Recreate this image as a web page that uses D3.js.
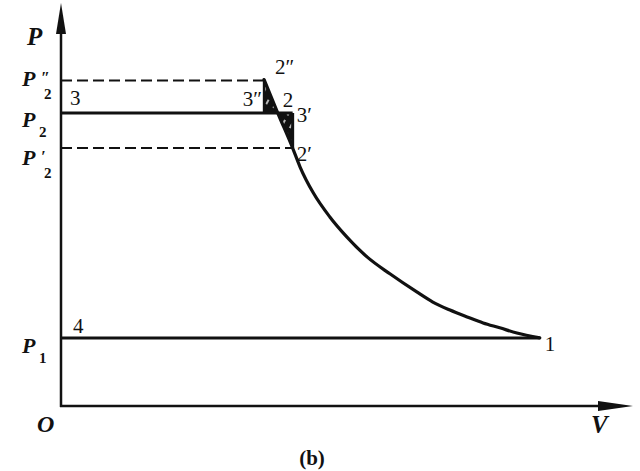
<!DOCTYPE html>
<html><head><meta charset="utf-8">
<script src="https://cdn.jsdelivr.net/npm/d3@7"></script>
<style>
html,body{margin:0;padding:0;background:#fff;}
svg{display:block;}
text{font-family:"Times New Roman","Liberation Serif",Tinos,Times,serif;fill:#111;}
</style></head>
<body>
<svg id="c" width="640" height="471"></svg>
<script>
// ---- data (arbitrary units) ----
const levelNames = ["P", "P", "P", "P"];
const levelSubs = ["2", "2", "2", "1"];
const levelPrimes = ["″", "", "′", ""];
const levelValues = [8.08, 7.27, 6.40, 1.69];   // P2'', P2, P2', P1

// compression curve 2'' -> 2 -> 2' -> 1
const curveV = [3.55, 3.79, 4.05, 4.18, 4.41, 4.70, 5.00, 5.35, 5.75, 6.22, 6.50, 6.80, 7.10, 7.38, 7.67, 7.97, 8.37];
const curveP = [8.10, 7.27, 6.40, 5.93, 5.29, 4.69, 4.19, 3.70, 3.28, 2.83, 2.58, 2.38, 2.21, 2.06, 1.94, 1.81, 1.69];

const pointNames = ["1", "2", "2′", "2″", "3", "3′", "3″", "4"];
const pointV = [8.37, 3.79, 4.05, 3.55, 0, 4.05, 3.55, 0];
const pointP = [1.69, 7.27, 6.40, 8.10, 7.27, 7.27, 7.27, 1.69];

const axisNames = ["P", "V", "O"];
const caption = "(b)";

// ---- scales ----
const svg = d3.select("#c");
const x = d3.scaleLinear().domain([0, 10]).range([61, 633]);
const y = d3.scaleLinear().domain([0, 10]).range([406, 3]);
const pt = n => { const i = pointNames.indexOf(n); return [pointV[i], pointP[i]]; };

// hatch pattern (black with short white slashes)
const defs = svg.append("defs");
const pat = defs.append("pattern").attr("id", "hatch").attr("patternUnits", "userSpaceOnUse")
  .attr("width", 8).attr("height", 10).attr("patternTransform", "rotate(28)");
pat.append("rect").attr("width", 8).attr("height", 10).attr("fill", "#111");
pat.append("line").attr("x1", 4).attr("x2", 4).attr("y1", 2).attr("y2", 7)
  .attr("stroke", "#fff").attr("stroke-width", 1.4);

const curvePts = curveV.map((v, i) => [v, curveP[i]]);
const line = d3.line().x(d => x(d[0])).y(d => y(d[1])).curve(d3.curveMonotoneX);

// hatched regions
const iv2 = curveV.indexOf(pt("2")[0]);
const iv2p = curveV.indexOf(pt("2′")[0]);
const regionA = [pt("3″"), ...curvePts.slice(0, iv2 + 1)];
const regionB = [...curvePts.slice(iv2, iv2p + 1), pt("3′")];
const poly = d3.line().x(d => x(d[0])).y(d => y(d[1]));
svg.append("path").attr("d", poly(regionA) + "Z").attr("fill", "url(#hatch)");
svg.append("path").attr("d", poly(regionB) + "Z").attr("fill", "url(#hatch)");

// horizontal lines
const hl = (p, v1, dashed, w) => svg.append("line")
  .attr("x1", x(0)).attr("x2", x(v1)).attr("y1", y(p)).attr("y2", y(p))
  .attr("stroke", "#111").attr("stroke-width", w)
  .attr("stroke-dasharray", dashed ? "11,5" : null);
hl(levelValues[0], pt("2″")[0], true, 2);
hl(levelValues[1], pt("3′")[0], false, 3.2);
hl(levelValues[2], pt("2′")[0], true, 2);
hl(levelValues[3], pt("1")[0], false, 3);

// verticals 3''-2'' and 3'-2'
svg.append("line").attr("x1", x(pt("3″")[0])).attr("x2", x(pt("3″")[0]))
  .attr("y1", y(pt("2″")[1])).attr("y2", y(pt("3″")[1])).attr("stroke", "#111").attr("stroke-width", 2.5);
svg.append("line").attr("x1", x(pt("3′")[0])).attr("x2", x(pt("3′")[0]))
  .attr("y1", y(pt("3′")[1])).attr("y2", y(pt("2′")[1])).attr("stroke", "#111").attr("stroke-width", 3);

// curve
svg.append("path").attr("d", line(curvePts)).attr("fill", "none")
  .attr("stroke", "#111").attr("stroke-width", 3.2).attr("stroke-linecap", "round");

// axes
svg.append("line").attr("x1", x(0)).attr("x2", x(0)).attr("y1", y(0) + 1).attr("y2", y(10) + 20)
  .attr("stroke", "#111").attr("stroke-width", 2.5);
svg.append("line").attr("x1", x(0) - 1).attr("x2", x(10) - 20).attr("y1", y(0)).attr("y2", y(0))
  .attr("stroke", "#111").attr("stroke-width", 2.5);
svg.append("path").attr("fill", "#111")
  .attr("d", `M${x(0)},${y(10)} L${x(0) - 5},${y(10) + 31} L${x(0) + 5},${y(10) + 31} Z`);
svg.append("path").attr("fill", "#111")
  .attr("d", `M${x(10)},${y(0)} L${x(10) - 35},${y(0) - 5} L${x(10) - 35},${y(0) + 5} Z`);

// axis names
const it = (t, px, py, size) => svg.append("text").attr("x", px).attr("y", py)
  .attr("font-size", size).attr("font-style", "italic").attr("font-weight", "bold").text(t);
it(axisNames[0], 27, 45, 25);
it(axisNames[1], 591, 433, 25);
it(axisNames[2], 37, 432, 24);

// level labels on P axis
const labelDy = [6, 14, 17, 15];
levelValues.forEach((p, i) => {
  const by = y(p) + labelDy[i];
  it(levelNames[i], 22, by, 22);
  svg.append("text").attr("x", levelPrimes[i] ? 44 : 39).attr("y", by + (levelPrimes[i] ? 13 : 10))
    .attr("font-size", 15).attr("font-weight", "bold").text(levelSubs[i]);
  if (levelPrimes[i]) svg.append("text").attr("x", 41).attr("y", by - 3)
    .attr("font-size", 16).attr("font-style", "italic").attr("font-weight", "bold").text(levelPrimes[i]);
});

// point labels
const labelOff = {"1": [5, 13, "start"], "2": [5, -6, "start"], "2′": [4, 13, "start"],
  "2″": [11, -6, "start"], "3": [9, -8, "start"], "3′": [4, 9, "start"],
  "3″": [-2, -7, "end"], "4": [12, -5, "start"]};
pointNames.forEach((n, i) => {
  const o = labelOff[n];
  svg.append("text").attr("x", x(pointV[i]) + o[0]).attr("y", y(pointP[i]) + o[1])
    .attr("text-anchor", o[2]).attr("font-size", 21).text(n);
});

// caption
svg.append("text").attr("x", 312).attr("y", 465).attr("text-anchor", "middle")
  .attr("font-size", 21).attr("font-weight", "bold").text(caption);
</script>
</body></html>
